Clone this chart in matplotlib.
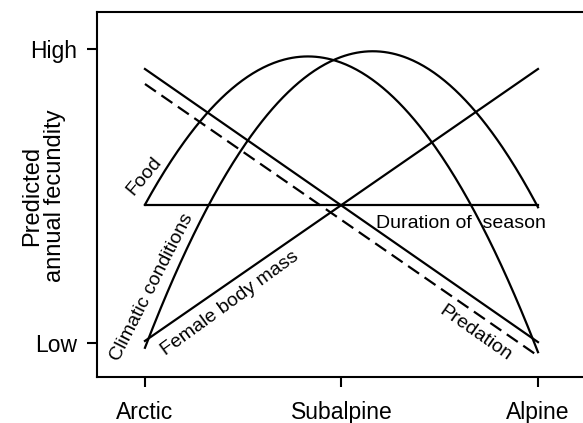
import numpy as np
import matplotlib
matplotlib.use("Agg")
import matplotlib.pyplot as plt

plt.rcParams['font.family'] = ['Liberation Sans', 'DejaVu Sans']

# categories along x (habitat) and y tick labels
habitats = ["Arctic", "Subalpine", "Alpine"]
levels = ["Low", "High"]

# curve sample points (x in habitat units, y 0=Low, 1=High)
curve_x = [0.0, 0.5, 1.0, 1.5, 2.0]
food_y = [0.469, 0.898, 0.953, 0.642, -0.030]
climatic_y = [-0.024, 0.685, 0.963, 0.900, 0.466]

# straight lines (start, end)
line_x = [0.0, 2.0]
duration_y = [0.469, 0.469]
body_mass_y = [0.007, 0.932]
predation_y = [0.932, 0.003]
predation_dash_y = [0.881, -0.044]

fig = plt.figure(figsize=(5.83, 4.23), dpi=100)
ax = fig.add_axes([97/583, 46/423, 1 - 97/583, (377 - 12)/423])

lw = 1.6
xs = np.linspace(0, 2, 300)
for ys in (food_y, climatic_y):
    coef = np.polyfit(curve_x, ys, 2)
    ax.plot(xs, np.polyval(coef, xs), color='black', lw=lw)

ax.plot(line_x, duration_y, color='black', lw=lw)
ax.plot(line_x, body_mass_y, color='black', lw=lw)
ax.plot(line_x, predation_y, color='black', lw=lw)
ax.plot(line_x, predation_dash_y, color='black', lw=lw, dashes=(6, 3))

ax.set_xlim(-0.244, (583 - 145) / 196.5)
ax.set_ylim((343 - 377) / 294, (343 - 12) / 294)

ax.set_xticks([0, 1, 2])
ax.set_xticklabels(habitats, fontsize=16.5)
ax.set_yticks([0, 1])
ax.set_yticklabels(levels, fontsize=16.5)
ax.tick_params(axis='both', direction='out', length=7, width=1.5, color='black')
ax.tick_params(axis='x', pad=10)
ax.tick_params(axis='y', pad=7)

for s in ('left', 'bottom', 'top'):
    ax.spines[s].set_linewidth(1.5)
ax.spines['right'].set_visible(False)

fig.text(44/583, 1 - 196/423, "Predicted\nannual fecundity", rotation=90,
         fontsize=17, ha='center', va='center', multialignment='center',
         linespacing=1.05)

fs = 14
ax.text(-0.005, 0.568, "Food", rotation=50, fontsize=fs, ha='center', va='center')
ax.text(0.036, 0.19, "Climatic conditions", rotation=63, fontsize=fs, ha='center', va='center')
ax.text(0.43, 0.135, "Female body mass", rotation=36, fontsize=fs, ha='center', va='center')
ax.text(1.608, 0.391, "Duration of  season", rotation=0, fontsize=fs, ha='center', va='baseline')
ax.text(1.679, 0.034, "Predation", rotation=-35, fontsize=fs, ha='center', va='center')

fig.savefig("out.png", dpi=100)
